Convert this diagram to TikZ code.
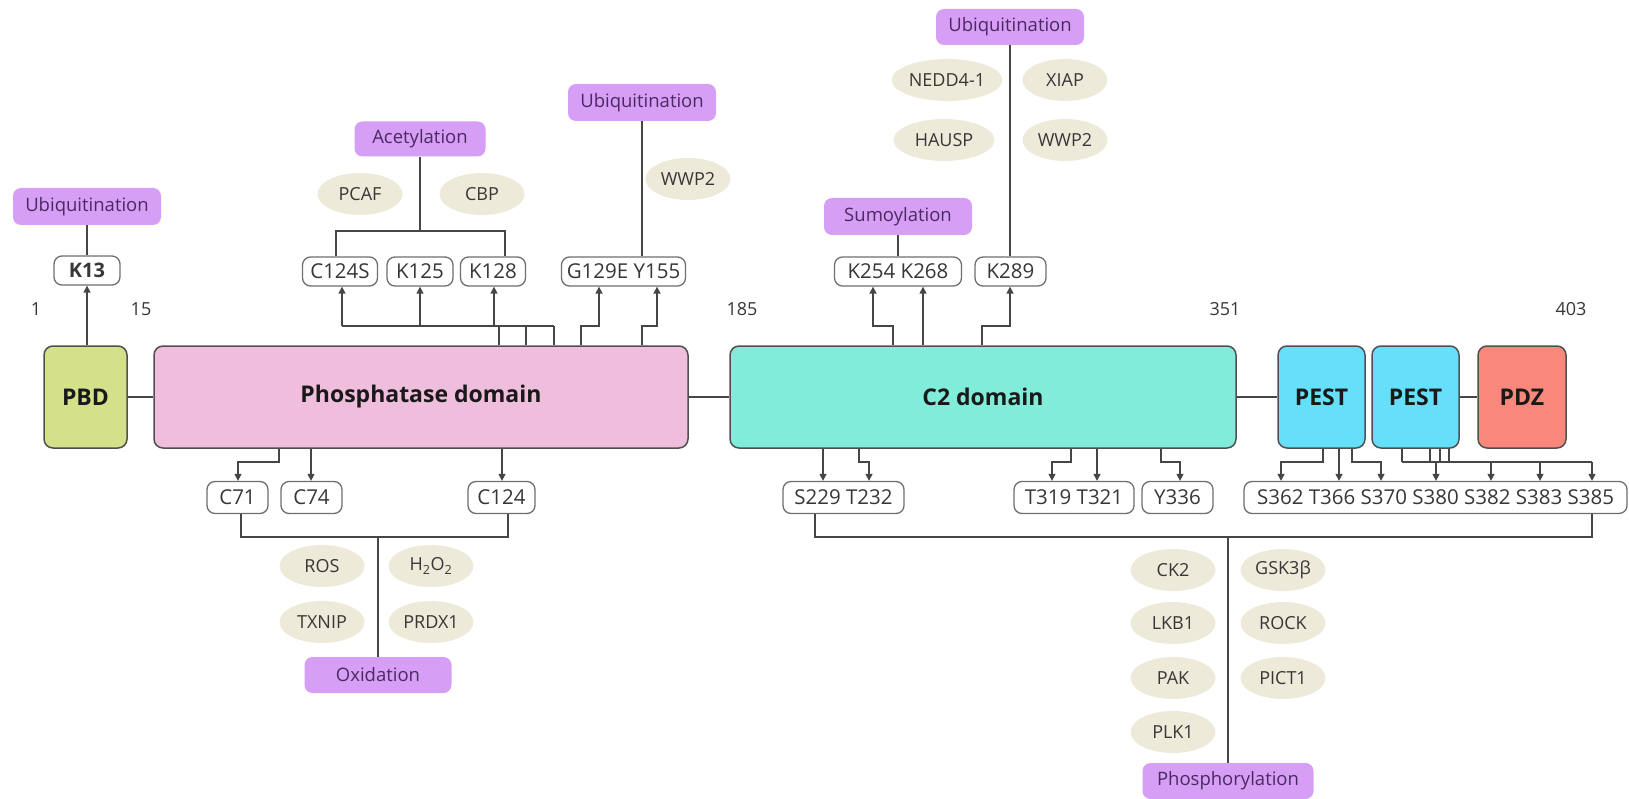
\documentclass[tikz,border=0pt]{standalone}
\usepackage{fontspec}
\setmainfont{Open Sans}
\usetikzlibrary{arrows.meta,shapes.geometric}
\definecolor{ptmfill}{RGB}{214,158,245}
\definecolor{ptmtext}{RGB}{75,42,100}
\definecolor{enzfill}{RGB}{238,234,218}
\definecolor{pbdfill}{RGB}{212,224,138}
\definecolor{phosfill}{RGB}{240,190,221}
\definecolor{ctwofill}{RGB}{130,236,218}
\definecolor{pestfill}{RGB}{102,224,250}
\definecolor{pdzfill}{RGB}{248,136,124}
\definecolor{dgray}{RGB}{80,80,80}
\definecolor{mgray}{RGB}{110,110,110}
\definecolor{tgray}{RGB}{55,55,55}
\definecolor{lgray}{RGB}{70,70,70}
\tikzset{
  dom/.style={draw=dgray, line width=1.5pt, rounded corners=9pt, font=\fontsize{23}{27}\selectfont\bfseries, text=black!90, inner sep=0pt, minimum height=102pt},
  res/.style={draw=mgray, line width=1.3pt, rounded corners=8pt, fill=white, font=\fontsize{20.5}{24}\selectfont, text=tgray, inner sep=0pt},
  ptm/.style={fill=ptmfill, rounded corners=8pt, font=\fontsize{18.5}{22}\selectfont, text=ptmtext, minimum height=37pt, inner sep=0pt},
  enz/.style={ellipse, fill=enzfill, font=\fontsize{18}{21}\selectfont, text=tgray, minimum width=85pt, minimum height=42pt, inner sep=1pt},
  conn/.style={draw=lgray, line width=1.4pt},
  arr/.style={conn, -{Triangle[length=7pt,width=7pt]}},
  num/.style={font=\fontsize{18}{21}\selectfont, text=tgray, inner sep=0pt}
}
\begin{document}
\begin{tikzpicture}[x=1pt,y=-1pt]
\useasboundingbox (0,0) rectangle (1629,799);
% domains
\node[dom, fill=pbdfill, minimum width=83pt] (pbd) at (85.5,397) {PBD};
\node[dom, fill=phosfill, minimum width=534pt] (phos) at (421,397) {Phosphatase domain};
\node[dom, fill=ctwofill, minimum width=506pt] (c2) at (983,397) {C2 domain};
\node[dom, fill=pestfill, minimum width=87pt] (pest1) at (1321.5,397) {PEST};
\node[dom, fill=pestfill, minimum width=87pt] (pest2) at (1415.5,397) {PEST};
\node[dom, fill=pdzfill, minimum width=88pt] (pdz) at (1522,397) {PDZ};
% numbers
\node[num] (n1) at (36,309) {1};
\node[num] (n15) at (141,309) {15};
\node[num] (n185) at (742,309) {185};
\node[num] (n351) at (1225,309) {351};
\node[num] (n403) at (1571,309) {403};
% upper residues
\node[res, minimum width=66pt, minimum height=29pt, font=\fontsize{20}{24}\selectfont\bfseries] (k13) at (87,270.5) {K13};
\node[res, minimum width=75pt, minimum height=29pt] (c124s) at (340,271.5) {C124S};
\node[res, minimum width=66pt, minimum height=29pt] (k125) at (420,271.5) {K125};
\node[res, minimum width=65pt, minimum height=29pt] (k128) at (493,271.5) {K128};
\node[res, minimum width=124pt, minimum height=29pt] (gy) at (623.5,271.5) {G129E Y155};
\node[res, minimum width=127pt, minimum height=29pt] (kk) at (898,271.5) {K254 K268};
\node[res, minimum width=71pt, minimum height=29pt] (k289) at (1010.5,271.5) {K289};
% lower residues
\node[res, minimum width=61pt, minimum height=32pt] (c71) at (237.5,497.5) {C71};
\node[res, minimum width=61pt, minimum height=32pt] (c74) at (311.5,497.5) {C74};
\node[res, minimum width=67pt, minimum height=32pt] (c124) at (501.5,497.5) {C124};
\node[res, minimum width=121pt, minimum height=32pt] (st) at (843.5,497.5) {S229 T232};
\node[res, minimum width=120pt, minimum height=32pt] (tt) at (1074,497.5) {T319 T321};
\node[res, minimum width=71pt, minimum height=32pt] (y336) at (1177.5,497.5) {Y336};
\node[res, minimum width=383pt, minimum height=32pt] (big) at (1435.5,497.5) {S362 T366 S370 S380 S382 S383 S385};
% PTM boxes
\node[ptm, minimum width=148pt] (ubL) at (87,206.5) {Ubiquitination};
\node[ptm, minimum width=131pt, minimum height=35pt] (acet) at (420,139) {Acetylation};
\node[ptm, minimum width=148pt] (ubM) at (642,102.5) {Ubiquitination};
\node[ptm, minimum width=148pt] (sumo) at (898,216.5) {Sumoylation};
\node[ptm, minimum width=148pt, minimum height=36pt] (ubR) at (1010,27) {Ubiquitination};
\node[ptm, minimum width=147pt, minimum height=36pt] (ox) at (378,675) {Oxidation};
\node[ptm, minimum width=171pt, minimum height=36pt] (phosph) at (1228,781) {Phosphorylation};
% enzymes
\node[enz] (pcaf) at (360,194) {PCAF};
\node[enz] (cbp) at (482,194) {CBP};
\node[enz] (wwpM) at (688,179) {WWP2};
\node[enz, minimum width=104pt] (nedd) at (947,80) {NEDD4-1};
\node[enz] (xiap) at (1065,80) {XIAP};
\node[enz, minimum width=101pt] (hausp) at (944,140) {HAUSP};
\node[enz] (wwpR) at (1065,140) {WWP2};
\node[enz] (ros) at (322,566) {ROS};
\node[enz] (hoo) at (431,566) {H\textsubscript{2}O\textsubscript{2}};
\node[enz] (txnip) at (322,622) {TXNIP};
\node[enz] (prdx) at (431,622) {PRDX1};
\node[enz] (ck2) at (1173,570) {CK2};
\node[enz] (gsk) at (1283,570) {GSK3β};
\node[enz] (lkb) at (1173,623) {LKB1};
\node[enz] (rock) at (1283,623) {ROCK};
\node[enz] (pak) at (1173,678) {PAK};
\node[enz] (pict) at (1283,678) {PICT1};
\node[enz] (plk) at (1173,732) {PLK1};
% domain links
\draw[conn] (pbd.east) -- (phos.west);
\draw[conn] (phos.east) -- (c2.west);
\draw[conn] (c2.east) -- (pest1.west);
\draw[conn] (pest2.east) -- (pdz.west);
% K13
\draw[conn] (ubL.south) -- (k13.north);
\draw[arr] (pbd.north -| k13.south) -- (k13.south);
% acetylation
\coordinate (acj) at (420,231);
\draw[conn] (acet.south) -- (acj);
\draw[conn] (336,0 |- c124s.north) |- (505,231) -- (505,0 |- k128.north);
\draw[conn] (342,326) -- (554,326);
\foreach \xx in {499,526,554} \draw[conn] (\xx,326) -- (phos.north -| \xx,0);
\draw[arr] (342,326) -- (342,0 |- c124s.south);
\draw[arr] (420,326) -- (420,0 |- k125.south);
\draw[arr] (494,326) -- (494,0 |- k128.south);
% G129E Y155
\draw[conn] (ubM.south) -- (ubM.south |- gy.north);
\draw[arr] (phos.north -| 581,0) |- (599,326) -- (599,0 |- gy.south);
\draw[arr] (phos.north -| 642,0) |- (657,326) -- (657,0 |- gy.south);
% sumo / K289
\draw[conn] (sumo.south) -- (sumo.south |- kk.north);
\draw[arr] (c2.north -| 893,0) |- (873,326) -- (873,0 |- kk.south);
\draw[arr] (c2.north -| 923,0) -- (923,0 |- kk.south);
\draw[arr] (c2.north -| 982,0) |- (1010,326) -- (1010,0 |- k289.south);
\draw[conn] (ubR.south) -- (ubR.south |- k289.north);
% oxidation
\draw[arr] (phos.south -| 279,0) |- (238,462) -- (238,0 |- c71.north);
\draw[arr] (phos.south -| 311,0) -- (311,0 |- c74.north);
\draw[arr] (phos.south -| 502,0) -- (502,0 |- c124.north);
\draw[conn] (241,0 |- c71.south) |- (508,537) -- (508,0 |- c124.south);
\draw[conn] (ox.north) -- (ox.north |- 0,537);
% C2 phosphorylation
\draw[arr] (c2.south -| 823,0) -- (823,0 |- st.north);
\draw[arr] (c2.south -| 859,0) |- (869,462) -- (869,0 |- st.north);
\draw[arr] (c2.south -| 1071,0) |- (1052,462) -- (1052,0 |- tt.north);
\draw[arr] (c2.south -| 1097,0) -- (1097,0 |- tt.north);
\draw[arr] (c2.south -| 1161,0) |- (1180,462) -- (1180,0 |- y336.north);
% PEST
\draw[arr] (pest1.south -| 1323,0) |- (1281,462) -- (1281,0 |- big.north);
\draw[arr] (pest1.south -| 1339,0) -- (1339,0 |- big.north);
\draw[arr] (pest1.south -| 1352,0) |- (1381,462) -- (1381,0 |- big.north);
\foreach \xx in {1402,1430,1440,1449} \draw[conn] (pest2.south -| \xx,0) -- (\xx,462);
\draw[conn] (1402,462) -- (1592,462);
\foreach \xx in {1436,1491,1540,1592} \draw[arr] (\xx,462) -- (\xx,0 |- big.north);
\draw[conn] (815,0 |- st.south) |- (1592,537) -- (1592,0 |- big.south);
\draw[conn] (phosph.north) -- (phosph.north |- 0,537);
\end{tikzpicture}
\end{document}
